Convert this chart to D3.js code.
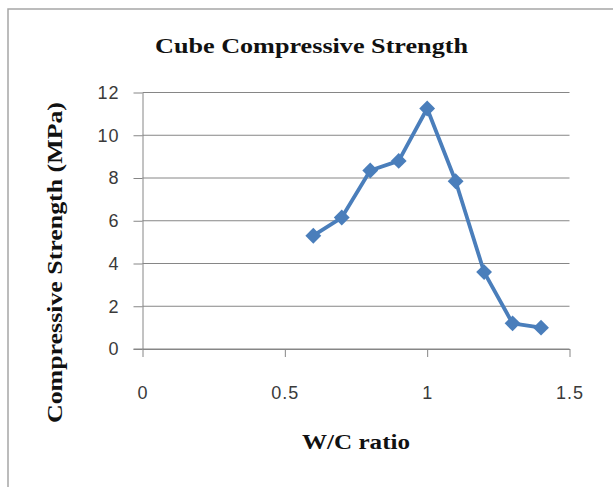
<!DOCTYPE html>
<meta charset="utf-8">
<style>
 body { margin: 0; background: #fff; }
 .tick text { font-family: 'Liberation Sans', sans-serif; font-size: 18px; letter-spacing: 1px; fill: #3a3a3a; }
 .tick line { stroke: #868686; }
 .domain { stroke: #868686; }
 .grid line { stroke: #868686; stroke-width: 1; }
 .ttl { font-family: 'Liberation Serif', serif; font-weight: bold; fill: #111; }
 .series { fill: none; stroke: #4a7ebb; stroke-width: 3.8; stroke-linejoin: round; }
 .marker { fill: #4a7ebb; }
</style>
<body>
<script src="https://d3js.org/d3.v7.min.js"></script>
<script>

var wcRatio = [0.6, 0.7, 0.8, 0.9, 1.0, 1.1, 1.2, 1.3, 1.4];
var strength = [5.3, 6.15, 8.35, 8.8, 11.25, 7.85, 3.6, 1.2, 1.0];
var xTicks = [0, 0.5, 1, 1.5];
var yTicks = [0, 2, 4, 6, 8, 10, 12];

var width = 613,
    height = 487;

var svg = d3.select("body").append("svg")
    .attr("width", width)
    .attr("height", height);

// chart frame (runs off the right and bottom edge)
svg.append("rect")
    .attr("x", 8).attr("y", 9)
    .attr("width", 640).attr("height", 520)
    .attr("fill", "none")
    .attr("stroke", "#a6a6a6")
    .attr("stroke-width", 1.5);

var x = d3.scaleLinear().domain([0, 1.5]).range([142.5, 569.5]);
var y = d3.scaleLinear().domain([0, 12]).range([349, 92.5]);

// gridlines
svg.append("g").attr("class", "grid")
  .selectAll("line").data(yTicks.slice(1))
  .enter().append("line")
    .attr("x1", x(0)).attr("x2", x(1.5))
    .attr("y1", d => y(d)).attr("y2", d => y(d));

var yAxis = svg.append("g")
    .attr("transform", "translate(" + x(0) + ",0)")
    .call(d3.axisLeft(y).tickValues(yTicks).tickSize(9).tickPadding(14).tickSizeOuter(0));

var xAxis = svg.append("g")
    .attr("transform", "translate(0," + y(0) + ")")
    .call(d3.axisBottom(x).tickValues(xTicks).tickSize(8).tickPadding(29).tickSizeOuter(0)
      .tickFormat(d3.format("")));

// 0 gridline reaches left like the others
svg.append("line")
    .attr("x1", x(0) - 9).attr("x2", x(1.5))
    .attr("y1", y(0)).attr("y2", y(0))
    .attr("stroke", "#868686");

var pts = wcRatio.map((d, i) => [d, strength[i]]);

var line = d3.line().x(d => x(d[0])).y(d => y(d[1]));

svg.append("path")
    .datum(pts)
    .attr("class", "series")
    .attr("d", line);

svg.append("g").selectAll("path").data(pts)
  .enter().append("path")
    .attr("class", "marker")
    .attr("transform", d => "translate(" + x(d[0]) + "," + y(d[1]) + ")")
    .attr("d", d3.symbol().type(d3.symbolDiamond2).size(160));

svg.append("text")
    .attr("class", "ttl")
    .attr("x", 155).attr("y", 53)
    .attr("textLength", 313)
    .attr("lengthAdjust", "spacingAndGlyphs")
    .style("font-size", "22px")
    .text("Cube Compressive Strength");

svg.append("text")
    .attr("class", "ttl")
    .attr("x", 302).attr("y", 449)
    .attr("textLength", 108)
    .attr("lengthAdjust", "spacingAndGlyphs")
    .style("font-size", "22px")
    .text("W/C ratio");

svg.append("text")
    .attr("class", "ttl")
    .attr("transform", "translate(62,423) rotate(-90)")
    .attr("textLength", 321)
    .attr("lengthAdjust", "spacingAndGlyphs")
    .style("font-size", "22px")
    .text("Compressive Strength (MPa)");

</script>
